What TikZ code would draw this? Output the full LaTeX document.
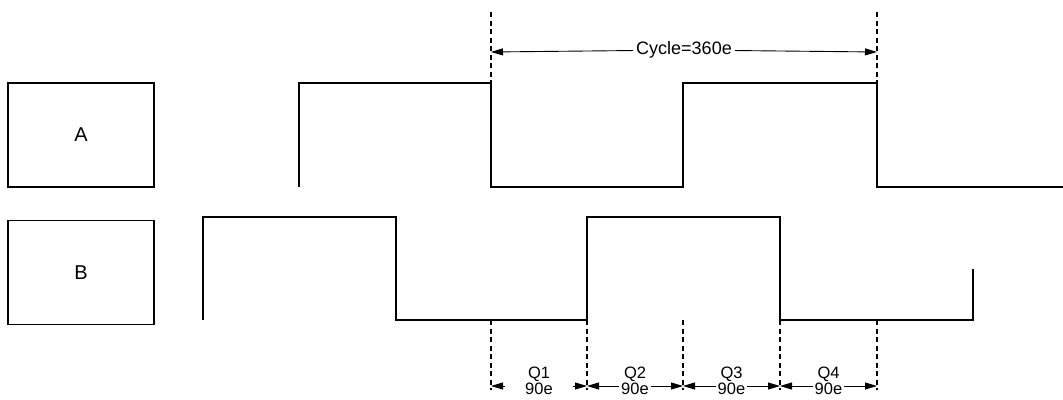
\documentclass[tikz,border=0pt]{standalone}
\usepackage{fontspec}
\setmainfont{Liberation Sans}
\usetikzlibrary{arrows.meta,calc,positioning}

\begin{document}
\begin{tikzpicture}[x=1pt,y=-1pt,
  sigbox/.style={draw,line width=1.6pt,minimum width=146pt,minimum height=104pt,
    inner sep=0pt,font=\fontsize{20}{22}\selectfont},
  wave/.style={line width=1.5pt},
  guide/.style={line width=1.2pt,dash pattern=on 5pt off 3.5pt},
  dim/.style={-{Triangle[length=12pt,width=7pt]},line width=0.9pt},
  cyclbl/.style={font=\fontsize{18}{18}\selectfont,fill=white,inner sep=3pt},
  qlbl/.style={font=\fontsize{16.5}{14.5}\selectfont,align=center,inner sep=2pt}]
\useasboundingbox (0,0) rectangle (1063,399);
\node[sigbox] (boxA) at (81,135) {A};
\node[sigbox] (boxB) at (81,272.5) {B};
% signal A
\draw[wave] (299,187) -- (299,83) -- (491,83) -- (491,187) -- (683,187) -- (683,83)
  -- (877,83) -- (877,187) -- (1063,187);
% signal B
\draw[wave] (203,320) -- (203,217) -- (396,217) -- (396,320) -- (587,320) -- (587,217)
  -- (780,217) -- (780,320) -- (973,320) -- (973,269);
% full cycle
\foreach \x in {491,877} \draw[guide] (\x,12) -- (\x,83);
\coordinate (cycL) at (491,52);
\coordinate (cycR) at (877,52);
\node[cyclbl] (cyc) at (684,50) {Cycle=360e};
\draw[dim] (cyc) -- (cycL);
\draw[dim] (cyc) -- (cycR);
% quarters
\foreach \x [count=\i] in {491,587,683,780,877} {
  \draw[guide] (\x,320) -- (\x,390);
  \coordinate (m\i) at (\x,386);
}
\node[qlbl,minimum width=68pt] (q1) at ($(m1)!0.5!(m2)+(0,-5)$) {Q1\\90e};
\node[qlbl] (q2) at ($(m2)!0.5!(m3)+(0,-5)$) {Q2\\90e};
\node[qlbl] (q3) at ($(m3)!0.5!(m4)+(0,-5)$) {Q3\\90e};
\node[qlbl] (q4) at ($(m4)!0.5!(m5)+(0,-5)$) {Q4\\90e};
\foreach \q/\a/\b in {q1/m1/m2,q2/m2/m3,q3/m3/m4,q4/m4/m5} {
  \draw[dim] (\a -| \q.west) -- (\a);
  \draw[dim] (\b -| \q.east) -- (\b);
}
\end{tikzpicture}
\end{document}
